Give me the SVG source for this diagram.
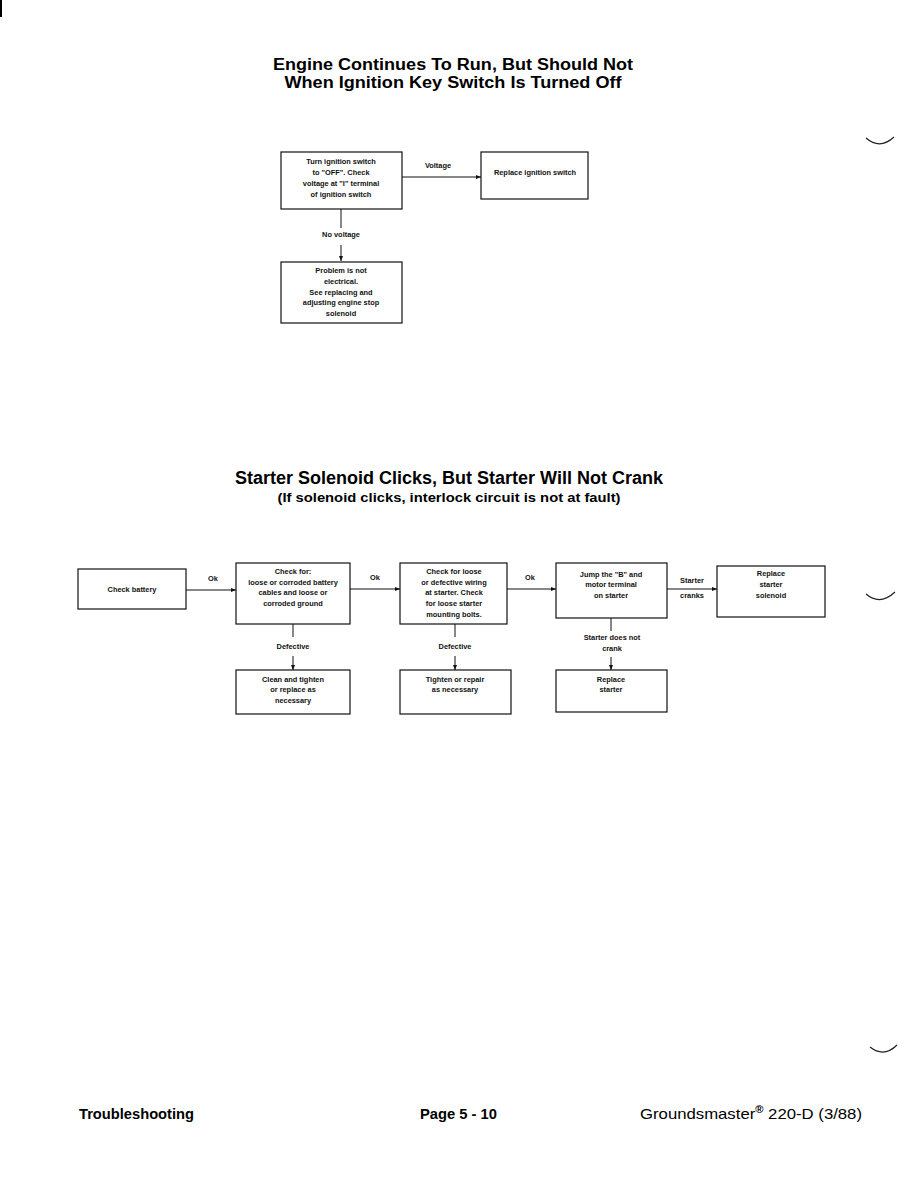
<svg xmlns="http://www.w3.org/2000/svg" width="918" height="1187" viewBox="0 0 918 1187">
<defs>
<marker id="arr" markerWidth="6" markerHeight="6" refX="5" refY="3" orient="auto" markerUnits="userSpaceOnUse">
<path d="M0,1 L5,3 L0,5 Z" fill="#111"/>
</marker>
<style>
.bx{fill:#fff;stroke:#111;stroke-width:1.2}
.ln{fill:none;stroke:#111;stroke-width:1}
.t{font-family:"Liberation Sans",Arial,sans-serif;font-weight:bold;font-size:7.4px;fill:#111;text-anchor:middle}
.h1{font-family:"Liberation Sans",Arial,sans-serif;font-weight:bold;font-size:17.5px;fill:#000;text-anchor:middle}
.h1s{font-family:"Liberation Sans",Arial,sans-serif;font-weight:bold;font-size:16px;fill:#000;text-anchor:middle}
.h2{font-family:"Liberation Sans",Arial,sans-serif;font-weight:bold;font-size:13.5px;fill:#000;text-anchor:middle}
.ft{font-family:"Liberation Sans",Arial,sans-serif;font-weight:bold;font-size:14px;fill:#000}
.mk{fill:none;stroke:#222;stroke-width:1.2}
</style>
</defs>
<rect width="918" height="1187" fill="#fff"/>
<rect x="0" y="0" width="2" height="17" fill="#000"/>
<path class="mk" d="M866,138 Q880,150 894,137"/>
<path class="mk" d="M866,594 Q880,606 895,592"/>
<path class="mk" d="M870,1047 Q884,1058 897,1045"/>

<text class="h1s" x="453" y="70" textLength="360" lengthAdjust="spacingAndGlyphs">Engine Continues To Run, But Should Not</text>
<text class="h1s" x="453" y="88" textLength="337" lengthAdjust="spacingAndGlyphs">When Ignition Key Switch Is Turned Off</text>

<g id="connectors">
<line class="ln" x1="402" y1="177" x2="481" y2="177" marker-end="url(#arr)"/>
<text class="t" x="438" y="168">Voltage</text>
<line class="ln" x1="341" y1="209" x2="341" y2="228"/>
<text class="t" x="341" y="237">No voltage</text>
<line class="ln" x1="341" y1="245" x2="341" y2="261" marker-end="url(#arr)"/>

<line class="ln" x1="186" y1="590" x2="236" y2="590" marker-end="url(#arr)"/>
<text class="t" x="213" y="581">Ok</text>
<line class="ln" x1="350" y1="589" x2="400" y2="589" marker-end="url(#arr)"/>
<text class="t" x="375" y="580">Ok</text>
<line class="ln" x1="507" y1="589" x2="556" y2="589" marker-end="url(#arr)"/>
<text class="t" x="530" y="580">Ok</text>
<line class="ln" x1="667" y1="589" x2="717" y2="589" marker-end="url(#arr)"/>
<text class="t" x="692" y="583">Starter</text>
<text class="t" x="692" y="598">cranks</text>

<line class="ln" x1="293" y1="624" x2="293" y2="637"/>
<text class="t" x="293" y="649">Defective</text>
<line class="ln" x1="293" y1="656" x2="293" y2="670" marker-end="url(#arr)"/>
<line class="ln" x1="455" y1="624" x2="455" y2="637"/>
<text class="t" x="455" y="649">Defective</text>
<line class="ln" x1="455" y1="656" x2="455" y2="670" marker-end="url(#arr)"/>
<line class="ln" x1="611" y1="618" x2="611" y2="631"/>
<text class="t" x="612" y="640">Starter does not</text>
<text class="t" x="612" y="651">crank</text>
<line class="ln" x1="611" y1="657" x2="611" y2="670" marker-end="url(#arr)"/>
</g>

<g id="n1">
<rect class="bx" x="281" y="152" width="121" height="57"/>
<text class="t" x="341" y="164">Turn ignition switch</text>
<text class="t" x="341" y="175">to "OFF". Check</text>
<text class="t" x="341" y="186">voltage at "I" terminal</text>
<text class="t" x="341" y="197">of ignition switch</text>
</g>
<g id="n2">
<rect class="bx" x="481" y="152" width="107" height="47"/>
<text class="t" x="535" y="175">Replace ignition switch</text>
</g>
<g id="n3">
<rect class="bx" x="281" y="262" width="121" height="61"/>
<text class="t" x="341" y="273">Problem is not</text>
<text class="t" x="341" y="284">electrical.</text>
<text class="t" x="341" y="295">See replacing and</text>
<text class="t" x="341" y="305">adjusting engine stop</text>
<text class="t" x="341" y="316">solenoid</text>
</g>

<text class="h1" x="449" y="484" textLength="428" lengthAdjust="spacingAndGlyphs">Starter Solenoid Clicks, But Starter Will Not Crank</text>
<text class="h2" x="449" y="502" textLength="343" lengthAdjust="spacingAndGlyphs">(If solenoid clicks, interlock circuit is not at fault)</text>

<g id="nA">
<rect class="bx" x="78" y="569" width="108" height="40"/>
<text class="t" x="132" y="592">Check battery</text>
</g>
<g id="nB">
<rect class="bx" x="236" y="563" width="114" height="61"/>
<text class="t" x="293" y="574">Check for:</text>
<text class="t" x="293" y="585">loose or corroded battery</text>
<text class="t" x="293" y="595">cables and loose or</text>
<text class="t" x="293" y="606">corroded ground</text>
</g>
<g id="nC">
<rect class="bx" x="400" y="563" width="107" height="61"/>
<text class="t" x="454" y="574">Check for loose</text>
<text class="t" x="454" y="585">or defective wiring</text>
<text class="t" x="454" y="595">at starter. Check</text>
<text class="t" x="454" y="606">for loose starter</text>
<text class="t" x="454" y="617">mounting bolts.</text>
</g>
<g id="nD">
<rect class="bx" x="556" y="563" width="111" height="55"/>
<text class="t" x="611" y="577">Jump the "B" and</text>
<text class="t" x="611" y="587">motor terminal</text>
<text class="t" x="611" y="598">on starter</text>
</g>
<g id="nE">
<rect class="bx" x="717" y="566" width="108" height="51"/>
<text class="t" x="771" y="576">Replace</text>
<text class="t" x="771" y="587">starter</text>
<text class="t" x="771" y="598">solenoid</text>
</g>
<g id="nF">
<rect class="bx" x="236" y="670" width="114" height="44"/>
<text class="t" x="293" y="682">Clean and tighten</text>
<text class="t" x="293" y="692">or replace as</text>
<text class="t" x="293" y="703">necessary</text>
</g>
<g id="nG">
<rect class="bx" x="400" y="670" width="111" height="44"/>
<text class="t" x="455" y="682">Tighten or repair</text>
<text class="t" x="455" y="692">as necessary</text>
</g>
<g id="nH">
<rect class="bx" x="556" y="670" width="111" height="42"/>
<text class="t" x="611" y="682">Replace</text>
<text class="t" x="611" y="692">starter</text>
</g>

<text class="ft" x="79" y="1119" textLength="115" lengthAdjust="spacingAndGlyphs">Troubleshooting</text>
<text class="ft" x="420" y="1119" textLength="77" lengthAdjust="spacingAndGlyphs">Page 5 - 10</text>
<text class="ft" x="640" y="1119" style="font-weight:normal;font-size:15px" textLength="222" lengthAdjust="spacingAndGlyphs">Groundsmaster<tspan dy="-6" font-size="10" font-weight="bold">®</tspan><tspan dy="6"> 220-D (3/88)</tspan></text>
</svg>
